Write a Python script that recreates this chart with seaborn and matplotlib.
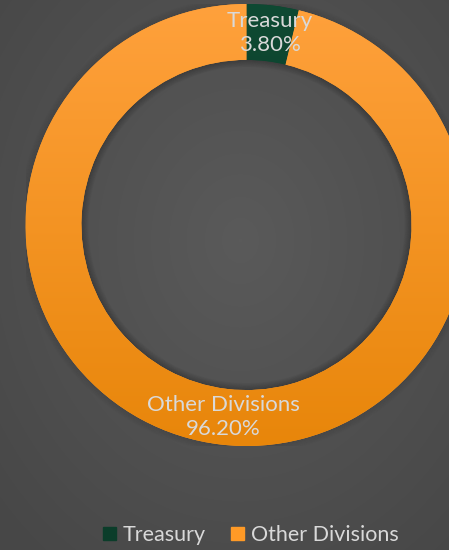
import numpy as np
import matplotlib.pyplot as plt
import seaborn as sns
from matplotlib.colors import LinearSegmentedColormap
from matplotlib.patches import Wedge, Rectangle

# data
divisions = ["Treasury", "Other Divisions"]
shares = [3.80, 96.20]
top_colors = ["#0f4a33", "#ffa13c"]
bottom_colors = ["#06301f", "#e8860a"]
legend_colors = ["#0b3d2a", "#ff9a26"]

sns.set_theme(style="dark")
plt.rcParams["font.family"] = ["Lato", "DejaVu Sans"]
text_color = "#d9d9d9"

fig = plt.figure(figsize=(4.49, 5.50), dpi=100)

# background with a soft radial glow
bg = fig.add_axes([0, 0, 1, 1])
bg.axis("off")
yy, xx = np.mgrid[0:550, 0:449]
dist = np.hypot((xx - 240) / 449, (yy - 240) / 550)
bg_cmap = LinearSegmentedColormap.from_list("bg", ["#5a5a5a", "#474747"])
bg.imshow(dist, cmap=bg_cmap, vmin=0, vmax=0.75, aspect="auto")

# donut axes: centre at (246.5, 225) px, outer radius 221 px
cx, cy, r_px = 246.5, 225, 221
ax = fig.add_axes([(cx - r_px) / 449, (550 - cy - r_px) / 550,
                   2 * r_px / 449, 2 * r_px / 550])
ax.axis("off")

ring_w = 0.253
inner = 1 - ring_w

# soft shadows
for k in range(8):
    ax.add_patch(Wedge((0, 0), 1 + 0.004 * (k + 1), 0, 360, width=0.004,
                       color="black", alpha=0.10 * (1 - k / 8), lw=0))
    ax.add_patch(Wedge((0, 0), inner - 0.004 * k, 0, 360, width=0.004,
                       color="black", alpha=0.25 * (1 - k / 8), lw=0))

wedges, _ = ax.pie(shares, startangle=90, counterclock=False, radius=1,
                   colors=legend_colors,
                   wedgeprops=dict(width=ring_w, linewidth=0))

grad = np.linspace(0, 1, 256).reshape(-1, 1)
for w, c_top, c_bot in zip(wedges, top_colors, bottom_colors):
    cm = LinearSegmentedColormap.from_list("g", [c_top, c_bot])
    im = ax.imshow(grad, cmap=cm, extent=[-1, 1, -1, 1], aspect="auto",
                   origin="upper", zorder=w.get_zorder() + 0.1)
    im.set_clip_path(w)

ax.set_xlim(-1, 1)
ax.set_ylim(-1, 1)

# data labels
start = 90
for name, val in zip(divisions, shares):
    mid = np.deg2rad(start - val * 3.6 / 2)
    start -= val * 3.6
    ax.text(0.875 * np.cos(mid), 0.875 * np.sin(mid), f"{name}\n{val:.2f}%",
            ha="center", va="center", color=text_color, fontsize=16,
            linespacing=1.3, zorder=10)

handles = [Rectangle((0, 0), 1, 1, color=c) for c in legend_colors]
leg = fig.legend(handles, divisions, loc="center", bbox_to_anchor=(0.558, 0.027),
                 ncol=2, frameon=False, fontsize=15.5, handlelength=0.6,
                 handleheight=0.6, handletextpad=0.3, columnspacing=1.2)
for t in leg.get_texts():
    t.set_color(text_color)

fig.savefig("out.png", dpi=100)
